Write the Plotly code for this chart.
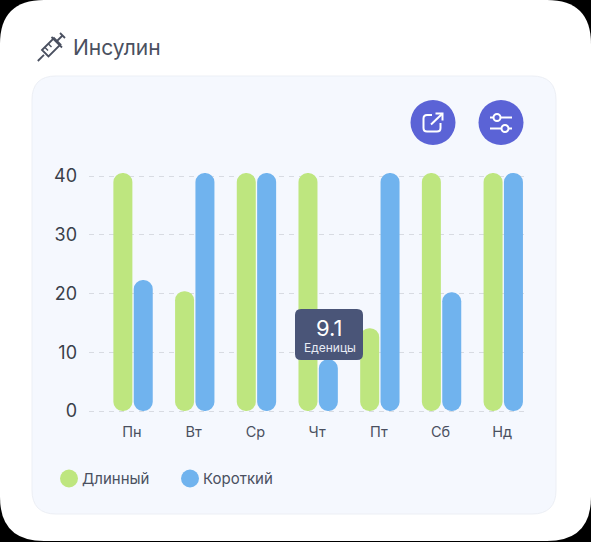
import plotly.graph_objects as go

days = ["Пн", "Вт", "Ср", "Чт", "Пт", "Сб", "Нд"]
long_vals = [40.5, 20.4, 40.5, 40.5, 14.1, 40.5, 40.5]
short_vals = [22.3, 40.5, 40.5, 8.8, 40.5, 20.2, 40.5]
y_ticks = [0, 10, 20, 30, 40]

W, H = 591, 542
GREEN, BLUE = "#BEE67F", "#70B3EE"
TXT = "#4A5060"
FONT = "Inter"
BTN = "#5B63D6"

def X(p): return p / W
def Y(p): return 1 - p / H

def rrect(x0, y0, x1, y1, r):
    return (f"M{X(x0+r)},{Y(y0)} L{X(x1-r)},{Y(y0)} Q{X(x1)},{Y(y0)} {X(x1)},{Y(y0+r)} "
            f"L{X(x1)},{Y(y1-r)} Q{X(x1)},{Y(y1)} {X(x1-r)},{Y(y1)} L{X(x0+r)},{Y(y1)} "
            f"Q{X(x0)},{Y(y1)} {X(x0)},{Y(y1-r)} L{X(x0)},{Y(y0+r)} Q{X(x0)},{Y(y0)} {X(x0+r)},{Y(y0)} Z")

def poly(pts, close=False):
    s = "M" + " L".join(f"{X(a)},{Y(b)}" for a, b in pts)
    return s + (" Z" if close else "")

shapes = []
def path(d, fill=None, line=None, w=0, layer="below"):
    shapes.append(dict(type="path", xref="paper", yref="paper", path=d, layer=layer,
                       fillcolor=fill if fill else "rgba(0,0,0,0)",
                       line=dict(color=line if line else "rgba(0,0,0,0)", width=w)))

def circle(cx, cy, r, fill=None, line=None, w=0, layer="below"):
    shapes.append(dict(type="circle", xref="paper", yref="paper",
                       x0=X(cx - r), x1=X(cx + r), y0=Y(cy + r), y1=Y(cy - r), layer=layer,
                       fillcolor=fill if fill else "rgba(0,0,0,0)",
                       line=dict(color=line if line else "rgba(0,0,0,0)", width=w)))

# outer white sheet and inner card
path(rrect(0, 0, 591, 541, 44), fill="#FFFFFF")
path(rrect(32, 76, 556, 514, 24), fill="#F5F8FE", line="#ECEFF5", w=1)

# buttons
circle(433, 122.5, 22.5, fill=BTN)
circle(501, 122.5, 22.5, fill=BTN)
path("M" + f"{X(432)},{Y(115)} L{X(427)},{Y(115)} Q{X(423.5)},{Y(115)} {X(423.5)},{Y(118.5)} "
     f"L{X(423.5)},{Y(128)} Q{X(423.5)},{Y(131.5)} {X(427)},{Y(131.5)} L{X(437)},{Y(131.5)} "
     f"Q{X(440.5)},{Y(131.5)} {X(440.5)},{Y(128)} L{X(440.5)},{Y(123)}", line="#FFFFFF", w=2)
path(poly([(431, 124.5), (442.5, 113.5)]), line="#FFFFFF", w=2)
path(poly([(435.5, 113.5), (442.5, 113.5), (442.5, 120.5)]), line="#FFFFFF", w=2)
path(poly([(490, 117.5), (493, 117.5)]), line="#FFFFFF", w=2)
path(poly([(501, 117.5), (512, 117.5)]), line="#FFFFFF", w=2)
circle(497, 117.5, 3.5, line="#FFFFFF", w=2)
path(poly([(490, 128.5), (501, 128.5)]), line="#FFFFFF", w=2)
path(poly([(509, 128.5), (512, 128.5)]), line="#FFFFFF", w=2)
circle(505, 128.5, 3.5, line="#FFFFFF", w=2)

# syringe
SY = "#4A5060"
path(poly([(37.8, 61), (44, 54.8)]), line=SY, w=1.8)
path(poly([(42, 50), (54, 38), (60.5, 44.5), (48.5, 56.5)], close=True), line=SY, w=1.8)
path(poly([(51.5, 37), (62, 47.5)]), line=SY, w=1.8)
path(poly([(57, 41), (62.5, 35.5)]), line=SY, w=1.8)
path(poly([(60, 33), (65, 38)]), line=SY, w=1.8)
path(poly([(45, 47.5), (48, 50.5)]), line=SY, w=1.4)
path(poly([(48.5, 44), (51.5, 47)]), line=SY, w=1.4)

# legend dots
circle(69, 478.5, 9, fill=GREEN)
circle(190, 478.5, 9, fill=BLUE)

# tooltip
path(rrect(295, 309, 363, 360, 6), fill="#4A5578", layer="above")

annotations = [
    dict(text="Инсулин", x=X(71), y=Y(47), xanchor="left", yanchor="middle", showarrow=False,
         font=dict(family=FONT, size=21, color=TXT)),
    dict(text="Длинный", x=X(80), y=Y(478.5), xanchor="left", yanchor="middle", showarrow=False,
         font=dict(family=FONT, size=15, color=TXT)),
    dict(text="Короткий", x=X(201), y=Y(478.5), xanchor="left", yanchor="middle", showarrow=False,
         font=dict(family=FONT, size=15, color=TXT)),
    dict(text="9.1", x=X(329), y=Y(328), xanchor="center", yanchor="middle", showarrow=False,
         font=dict(family=FONT, size=22, color="#FFFFFF")),
    dict(text="Еденицы", x=X(329.5), y=Y(347.5), xanchor="center", yanchor="middle", showarrow=False,
         font=dict(family=FONT, size=12, color="#E8ECF4")),
]
for a in annotations:
    a["xref"] = "paper"; a["yref"] = "paper"

xs = list(range(len(days)))
BW = 19 / 61.7
fig = go.Figure()
for vals, col, off in ((long_vals, GREEN, -0.33), (short_vals, BLUE, 0.0)):
    fig.add_bar(x=xs, y=vals, base=0, offset=off + 0.012 + 1 / 61.7, width=BW,
                marker=dict(color=col, line_width=0), showlegend=False)

PX_UNIT = 5.875
Y_BOTTOM, Y_TOP = 421, 160
fig.update_layout(
    width=W, height=H, autosize=False,
    margin=dict(l=0, r=0, t=0, b=0, pad=0),
    paper_bgcolor="#000000", plot_bgcolor="rgba(0,0,0,0)",
    barmode="overlay", barcornerradius=9, showlegend=False,
    shapes=shapes, annotations=annotations,
    xaxis=dict(domain=[X(89), X(529)], range=[(89 - 132) / 61.7, (529 - 132) / 61.7],
               tickmode="array", tickvals=xs, ticktext=days, showgrid=False, zeroline=False,
               showline=False, ticks="",
               tickfont=dict(family=FONT, size=14.5, color=TXT)),
    yaxis=dict(domain=[Y(Y_BOTTOM), Y(Y_TOP)],
               range=[-(Y_BOTTOM - 411) / PX_UNIT, (411 - Y_TOP) / PX_UNIT],
               tickmode="array", tickvals=y_ticks,
               showgrid=True, gridcolor="#D8DBE2", griddash="5px,5px", gridwidth=1, zeroline=False,
               showline=False, ticks="", ticklabelstandoff=11,
               tickfont=dict(family=FONT, size=18, color="#3A3F4A")),
)
fig.write_html("out.html", config=dict(displayModeBar=False),
               post_script="document.body.style.margin='0';document.body.style.background='#000';")
